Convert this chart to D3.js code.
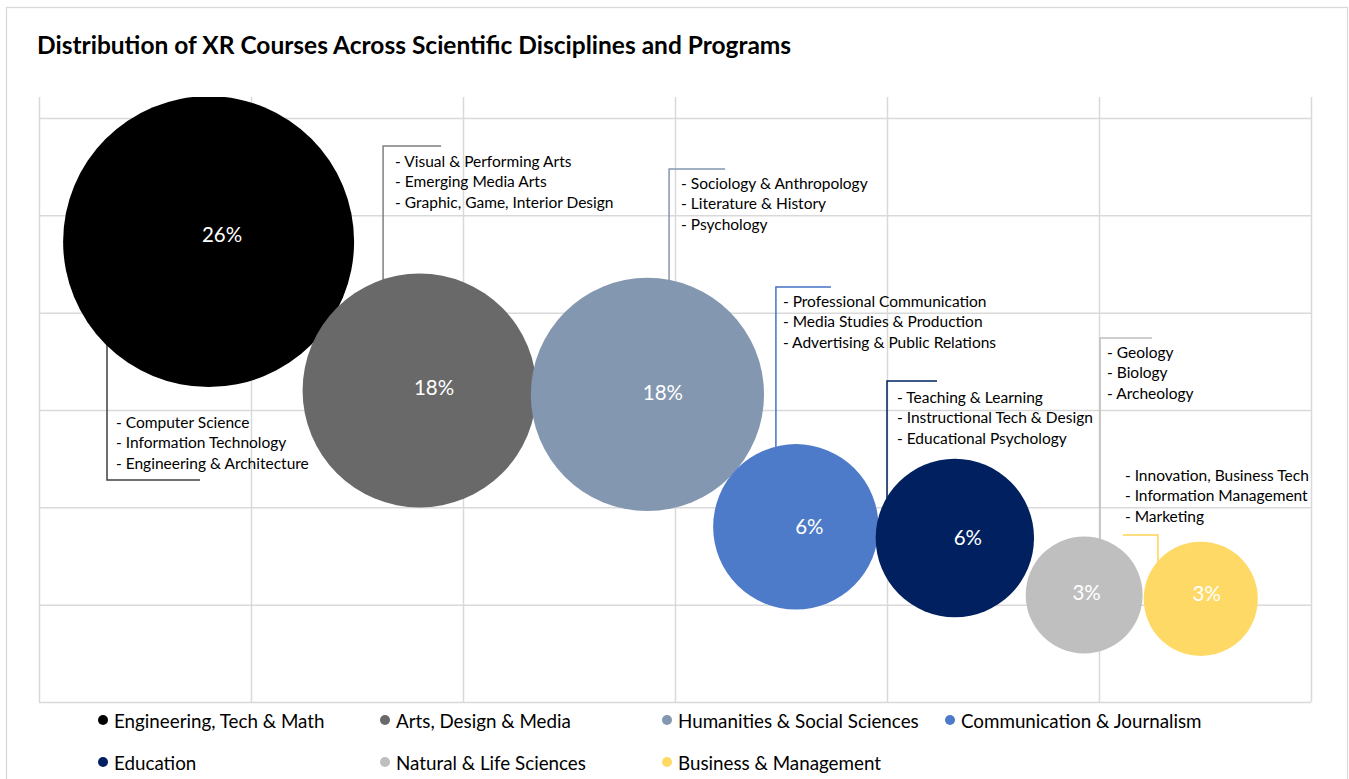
<!DOCTYPE html>
<html>
<head>
<meta charset="utf-8">
<script src="https://cdn.jsdelivr.net/npm/d3@7/dist/d3.min.js"></script>
<style>
  html, body { margin: 0; padding: 0; background: #fff; }
  svg { display: block; font-family: Lato, "Open Sans", sans-serif; }
</style>
</head>
<body>
<svg id="chart" width="1349" height="779"></svg>
<script>
// ---------------- DATA ----------------
const categories = [
  "Engineering, Tech & Math",
  "Arts, Design & Media",
  "Humanities & Social Sciences",
  "Communication & Journalism",
  "Education",
  "Natural & Life Sciences",
  "Business & Management"
];
const percentLabels = ["26%", "18%", "18%", "6%", "6%", "3%", "3%"];
const xValues = [0.80, 1.795, 2.87, 3.57, 4.32, 4.93, 5.48];
const yValues = [4.73, 3.20, 3.16, 1.80, 1.685, 1.10, 1.06];
const bubbleSizes = [26, 16.8, 16.7, 8.4, 7.7, 4.2, 4.0];
const programs = [
  ["- Computer Science", "- Information Technology", "- Engineering & Architecture"],
  ["- Visual & Performing Arts", "- Emerging Media Arts", "- Graphic, Game, Interior Design"],
  ["- Sociology & Anthropology", "- Literature & History", "- Psychology"],
  ["- Professional Communication", "- Media Studies & Production", "- Advertising & Public Relations"],
  ["- Teaching & Learning", "- Instructional Tech & Design", "- Educational Psychology"],
  ["- Geology", "- Biology", "- Archeology"],
  ["- Innovation, Business Tech", "- Information Management", "- Marketing"]
];
const xTicks = [0, 1, 2, 3, 4, 5, 6];
const yTicks = [0, 1, 2, 3, 4, 5, 6];

// ---------------- STYLE / LAYOUT ----------------
const colors = ["#000000", "#696969", "#8497B0", "#4E7BC9", "#00205F", "#BFBFBF", "#FFD966"];
const leaderColors = ["#404040", "#7F7F7F", "#8497B0", "#4472C4", "#00205F", "#BFBFBF", "#FFD45A"];
// percent label offsets from bubble centre (px)
const labelOffsets = [[13.5, -8], [14.5, -3.5], [15.5, -2], [13.5, -0.5], [13, -1], [2.5, -3], [6, -6]];
// callout layout: corner in data units, horizontal arm length (px), text offsets (px)
const calloutLayout = [
  {cx: 0.3208, cy: 2.281, arm: 93,  tdx: 9,   tdy: -58},
  {cx: 1.623,  cy: 5.712, arm: 58,  tdx: 12,  tdy: 15},
  {cx: 2.972,  cy: 5.476, arm: 56,  tdx: 12,  tdy: 14},
  {cx: 3.476,  cy: 4.264, arm: 55,  tdx: 7,   tdy: 14},
  {cx: 4.000,  cy: 3.298, arm: 50,  tdx: 10,  tdy: 16},
  {cx: 5.005,  cy: 3.740, arm: 52,  tdx: 7,   tdy: 14},
  {cx: 5.278,  cy: 1.716, arm: -35, tdx: -33, tdy: -60}
];

const svg = d3.select("#chart");
const plot = {left: 39, right: 1311, top: 97, bottom: 702};

// chart border
svg.append("rect").attr("x", 6.5).attr("y", 7.5).attr("width", 1341).attr("height", 800)
  .attr("fill", "#fff").attr("stroke", "#d9d9d9").attr("stroke-width", 1.3);

// title
svg.append("text").attr("x", 37).attr("y", 54)
  .attr("font-size", 24.5).attr("font-weight", 700).attr("fill", "#000")
  .text("Distribution of XR Courses Across Scientific Disciplines and Programs");

const x = d3.scaleLinear().domain([0, 6]).range([plot.left, plot.right]);
const unit = (plot.bottom - 118) / 6;
const y = d3.scaleLinear().domain([0, 7]).range([plot.bottom, plot.bottom - 7 * unit]);
const r = d3.scaleSqrt().domain([0, 26]).range([0, 145.5]);

svg.append("defs").append("clipPath").attr("id", "plotClip")
  .append("rect").attr("x", plot.left).attr("y", plot.top)
  .attr("width", plot.right - plot.left).attr("height", plot.bottom - plot.top);

// gridlines via axes
const gridY = svg.append("g").attr("transform", `translate(${plot.left},0)`)
  .call(d3.axisLeft(y).tickValues(yTicks).tickSize(-(plot.right - plot.left)).tickFormat(""));
const gridX = svg.append("g").attr("transform", `translate(0,${plot.bottom})`)
  .call(d3.axisBottom(x).tickValues(xTicks).tickSize(-(plot.bottom - plot.top)).tickFormat(""));
[gridX, gridY].forEach(g => {
  g.select(".domain").remove();
  g.selectAll(".tick line").attr("stroke", "#d9d9d9").attr("stroke-width", 1.5);
});

const data = categories.map((c, i) => ({
  cat: c, pct: percentLabels[i], x: xValues[i], y: yValues[i], size: bubbleSizes[i],
  lines: programs[i], color: colors[i], lc: leaderColors[i], lay: calloutLayout[i],
  lo: labelOffsets[i]
}));

// leader lines (behind bubbles)
const leaders = svg.append("g");
data.forEach(d => {
  const px = x(d.lay.cx), py = y(d.lay.cy);
  const by = y(d.y);
  leaders.append("path")
    .attr("d", `M${px + d.lay.arm},${py} L${px},${py} L${px},${by}`)
    .attr("fill", "none").attr("stroke", d.lc).attr("stroke-width", 1.5);
});

// bubbles
const bubbles = svg.append("g").attr("clip-path", "url(#plotClip)");
bubbles.selectAll("circle").data(data).join("circle")
  .attr("cx", d => x(d.x)).attr("cy", d => y(d.y)).attr("r", d => r(d.size))
  .attr("fill", d => d.color);

// percent labels
svg.append("g").selectAll("text").data(data).join("text")
  .attr("x", d => x(d.x) + d.lo[0]).attr("y", d => y(d.y) + d.lo[1])
  .attr("text-anchor", "middle").attr("dominant-baseline", "central")
  .attr("font-size", 20.5).attr("fill", "#fff")
  .text(d => d.pct);

// callout texts
data.forEach(d => {
  const px = x(d.lay.cx), py = y(d.lay.cy);
  const g = svg.append("g");
  d.lines.forEach((t, k) => {
    g.append("text")
      .attr("x", px + d.lay.tdx).attr("y", py + d.lay.tdy + k * 20.3)
      .attr("dominant-baseline", "central")
      .attr("font-size", 15.5).attr("fill", "#000").text(t);
  });
});

// legend
const legCols = [103, 385, 667, 950];
const legRows = [720, 762];
const legend = svg.append("g");
data.forEach((d, i) => {
  const cx = legCols[i % 4], cy = legRows[Math.floor(i / 4)];
  legend.append("circle").attr("cx", cx).attr("cy", cy).attr("r", 5).attr("fill", d.color);
  legend.append("text").attr("x", cx + 11).attr("y", cy)
    .attr("dominant-baseline", "central").attr("font-size", 18.8).attr("fill", "#000")
    .text(d.cat);
});
</script>
</body>
</html>
